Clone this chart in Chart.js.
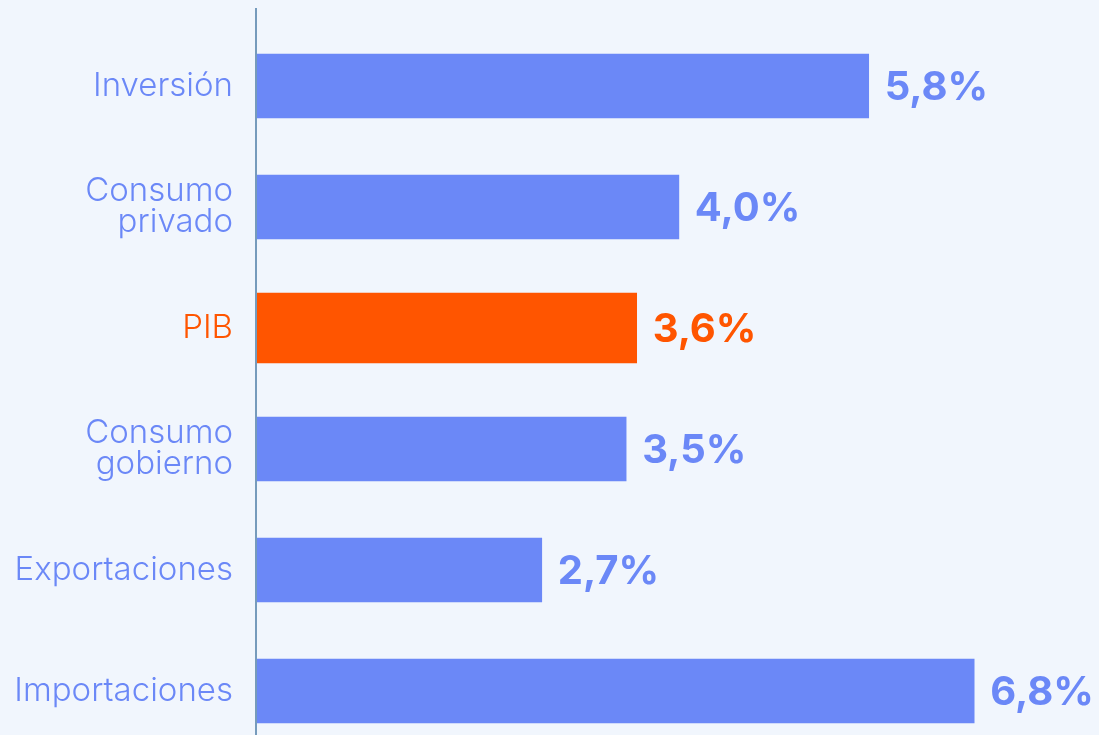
<!DOCTYPE html>
<html>
<head>
<meta charset="utf-8">
<script src="https://cdn.jsdelivr.net/npm/chart.js@4"></script>
<style>
  html, body { margin: 0; padding: 0; background: #f1f6fd; overflow: hidden; }
  #chart { width: 1099px; height: 735px; overflow: hidden; }
</style>
</head>
<body>
<div id="chart"><canvas width="1099" height="760" style="width:1099px;height:760px"></canvas></div>
<script>
const categories = ['Inversión', ['Consumo', 'privado'], 'PIB', ['Consumo', 'gobierno'], 'Exportaciones', 'Importaciones'];
const values = [5.8, 4.0, 3.6, 3.5, 2.7, 6.8];
const highlight = 'PIB';

const BLUE = '#6b88f7';
const ORANGE = '#ff5500';
const isHighlight = i => categories[i] === highlight;
const colorAt = i => isHighlight(i) ? ORANGE : BLUE;

const canvas = document.querySelector('#chart canvas');

// vertical axis line, a bit taller than the plot area
const axisLine = {
  id: 'axisLine',
  afterDraw(chart) {
    const ctx = chart.ctx;
    const x = chart.chartArea.left - 1;
    ctx.save();
    ctx.strokeStyle = '#4d7ca6';
    ctx.lineWidth = 1.5;
    ctx.beginPath();
    ctx.moveTo(x, 8);
    ctx.lineTo(x, chart.height);
    ctx.stroke();
    ctx.restore();
  }
};

const valueLabels = {
  id: 'valueLabels',
  afterDatasetsDraw(chart) {
    const ctx = chart.ctx;
    ctx.save();
    ctx.font = '700 40px Inter';
    ctx.textBaseline = 'middle';
    ctx.textAlign = 'left';
    chart.data.datasets.forEach((ds, di) => {
      chart.getDatasetMeta(di).data.forEach((bar, i) => {
        const v = ds.data[i];
        if (v == null) return;
        ctx.fillStyle = colorAt(i);
        ctx.fillText(v.toFixed(1).replace('.', ',') + '%', bar.x + 16, bar.y + 2);
      });
    });
    ctx.restore();
  }
};

new Chart(canvas, {
  type: 'bar',
  data: {
    labels: categories,
    datasets: [{
      data: values.map((v, i) => isHighlight(i) ? null : v),
      backgroundColor: BLUE,
      barThickness: 64
    }, {
      data: values.map((v, i) => isHighlight(i) ? v : null),
      backgroundColor: ORANGE,
      barThickness: 70
    }]
  },
  options: {
    indexAxis: 'y',
    responsive: false,
    animation: false,
    layout: {padding: {top: 25.5, bottom: 8.5, left: 0, right: 51}},
    plugins: {legend: {display: false}, tooltip: {enabled: false}},
    scales: {
      x: {
        display: false,
        min: 0,
        max: 7.5,
        stacked: true
      },
      y: {
        stacked: true,
        grid: {display: false, drawTicks: false},
        border: {display: false},
        afterFit(scale) {
          scale.width = 257;
          scale.paddingTop = 0;
          scale.paddingBottom = 0;
        },
        ticks: {
          padding: 24,
          color: ctx => colorAt(ctx.index),
          font: {family: 'Inter', weight: '300', size: 33, lineHeight: '31px'}
        }
      }
    }
  },
  plugins: [axisLine, valueLabels]
});
</script>
</body>
</html>
